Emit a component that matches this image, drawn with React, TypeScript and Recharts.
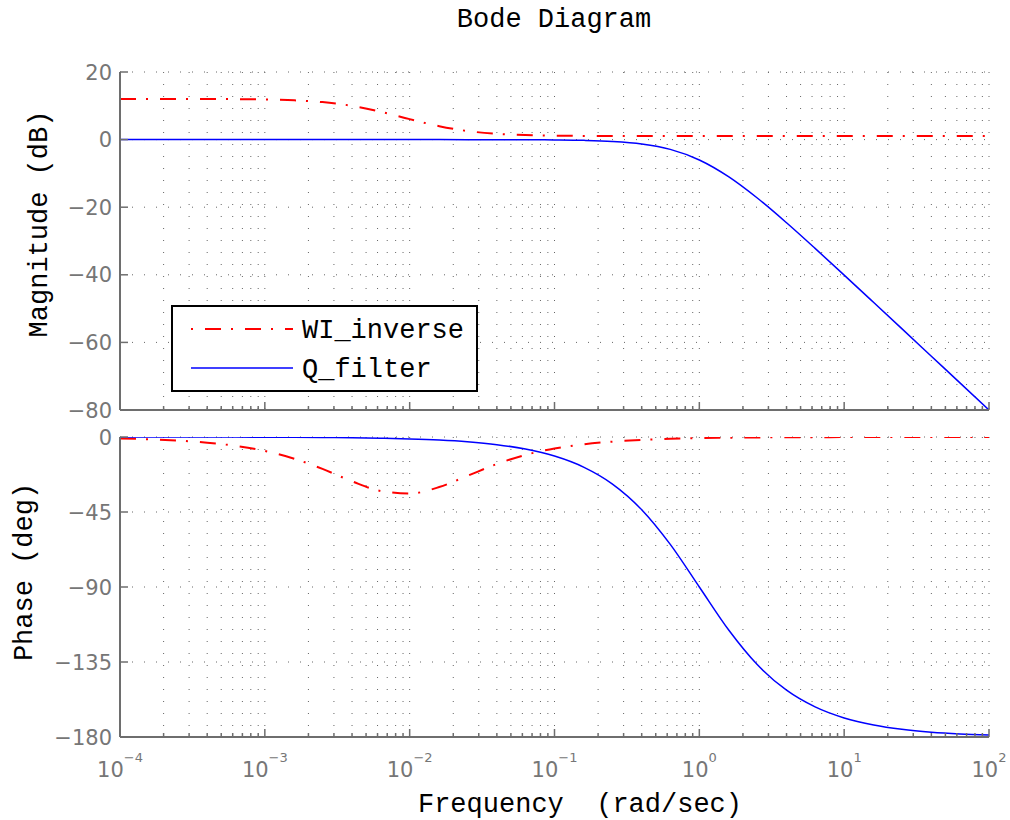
import React from 'react';
import { LineChart, Line, XAxis, YAxis, CartesianGrid, Legend } from 'recharts';

const freq = [
  0.0001, 0.00016, 0.00025, 0.0004, 0.00063,
  0.001, 0.0016, 0.0025, 0.004, 0.0063,
  0.01, 0.016, 0.025, 0.04, 0.063,
  0.1, 0.16, 0.25, 0.4, 0.63,
  1, 1.6, 2.5, 4, 6.3,
  10, 16, 25, 40, 63, 100,
];

// magnitude (dB)
const qMag = [
  0, 0, 0, 0, 0,
  0, 0, 0, 0, 0,
  0, 0, -0.01, -0.01, -0.03,
  -0.09, -0.22, -0.53, -1.29, -2.9,
  -6.02, -11.03, -17.21, -24.61, -32.19,
  -40.09, -48.2, -55.93, -64.09, -71.98, -80,
];
const wiMag = [
  12.04, 12.04, 12.03, 12.01, 11.97,
  11.87, 11.62, 11.09, 9.98, 8.25,
  6.05, 3.97, 2.55, 1.71, 1.33,
  1.17, 1.1, 1.08, 1.06, 1.06,
  1.06, 1.06, 1.06, 1.06, 1.06,
  1.06, 1.06, 1.06, 1.06, 1.06, 1.06,
];

// phase (deg)
const qPhase = [
  -0.01, -0.02, -0.03, -0.05, -0.07,
  -0.11, -0.18, -0.29, -0.46, -0.72,
  -1.15, -1.83, -2.86, -4.58, -7.21,
  -11.42, -18.18, -28.07, -43.6, -64.42,
  -90, -115.99, -136.4, -151.93, -161.96,
  -168.58, -172.85, -175.42, -177.14, -178.18, -178.85,
];
const wiPhase = [
  -0.86, -1.37, -2.14, -3.42, -5.36,
  -8.4, -13.06, -19.14, -26.57, -32.37,
  -33.89, -30.04, -23.35, -16.19, -10.74,
  -6.9, -4.34, -2.79, -1.75, -1.11,
  -0.69, -0.43, -0.28, -0.17, -0.11,
  -0.07, -0.04, -0.03, -0.02, -0.01, -0.01,
];

const decades = [1e-4, 1e-3, 1e-2, 1e-1, 1, 10, 100];
const decadeExp = ['\u22124', '\u22123', '\u22122', '\u22121', '0', '1', '2'];
const magTicks = [20, 0, -20, -40, -60, -80];
const phaseTicks = [0, -45, -90, -135, -180];
const legendOrder = ['wi', 'q'];

// major + minor log ticks (1..9 x 10^k)
const xTicks: number[] = [];
decades.forEach((d, i) => {
  if (i === decades.length - 1) {
    xTicks.push(d);
    return;
  }
  for (let m = 1; m <= 9; m++) xTicks.push(m * d);
});

const magData = freq.map((f, i) => ({ f, wi: wiMag[i], q: qMag[i] }));
const phaseData = freq.map((f, i) => ({ f, wi: wiPhase[i], q: qPhase[i] }));

const MONO = "'Liberation Mono', 'Courier New', monospace";
const SANS = "'DejaVu Sans', Verdana, sans-serif";
const AXIS = '#6e6e6e';
const TICK_TXT = '#767676';
const GRID = '#666666';
const RED = '#ff0000';
const BLUE = '#0000ff';
const RED_DASH = '16 10 2 12';

const XTick = (props: any) => {
  const { x, y, payload, side, showLabel } = props;
  const di = decades.indexOf(payload.value);
  const major = di >= 0;
  const dir = side === 'bottom' ? -1 : 1;
  return (
    <g>
      <line x1={x} y1={y} x2={x} y2={y + dir * (major ? 8 : 4)} stroke={AXIS} strokeWidth={1.5} />
      {showLabel && major && (
        <text x={x} y={y + 40} textAnchor="middle" fill={TICK_TXT} fontFamily={SANS} fontSize={21}>
          <tspan>10</tspan>
          <tspan dy={-15} fontSize={13}>{decadeExp[di]}</tspan>
        </text>
      )}
    </g>
  );
};

const YTick = (props: any) => {
  const { x, y, payload, side, showLabel } = props;
  const dir = side === 'left' ? 1 : -1;
  return (
    <g>
      <line x1={x} y1={y} x2={x + dir * 8} y2={y} stroke={AXIS} strokeWidth={1.5} />
      {showLabel && (
        <text x={x - 8} y={y} dy="0.36em" textAnchor="end" fill={TICK_TXT} fontFamily={SANS} fontSize={21}>
          {String(payload.value).replace('-', '\u2212')}
        </text>
      )}
    </g>
  );
};

const renderLegend = (props: any) => {
  const items = [...(props.payload || [])].sort(
    (a: any, b: any) => legendOrder.indexOf(a.dataKey) - legendOrder.indexOf(b.dataKey)
  );
  return (
    <div
      style={{
        boxSizing: 'border-box',
        width: 307,
        height: 87,
        border: '2px solid #000',
        background: '#fff',
      }}
    >
      <svg width={303} height={83} style={{ display: 'block' }}>
        {items.map((entry: any, i: number) => {
          const ly = 22 + i * 39;
          const isWi = entry.dataKey === 'wi';
          return (
            <g key={entry.value}>
              <line
                x1={18}
                x2={120}
                y1={ly}
                y2={ly}
                stroke={entry.color}
                strokeWidth={isWi ? 2 : 1.5}
                strokeDasharray={isWi ? RED_DASH : undefined}
                strokeDashoffset={isWi ? 26 : undefined}
              />
              <text x={129} y={ly + 9} fontFamily={MONO} fontSize={27} fill="#000">
                {entry.value}
              </text>
            </g>
          );
        })}
      </svg>
    </div>
  );
};

const frameAxis = { stroke: AXIS, strokeWidth: 2 };

export default function App() {
  return (
    <div style={{ position: 'absolute', left: 0, top: 0, width: 1010, height: 820, background: '#fff' }}>
      {/* Magnitude */}
      <div style={{ position: 'absolute', left: 0, top: 0 }}>
        <LineChart width={1010} height={440} data={magData} margin={{ top: 72, right: 21, bottom: 0, left: 0 }}>
          <CartesianGrid xAxisId="b" yAxisId="l" stroke={GRID} strokeDasharray="1 11" />
          <XAxis
            xAxisId="b"
            dataKey="f"
            type="number"
            scale="log"
            domain={[1e-4, 100]}
            allowDataOverflow
            ticks={xTicks}
            interval={0}
            height={30}
            tickSize={0}
            tickMargin={0}
            tickLine={false}
            axisLine={frameAxis}
            tick={(p: any) => <XTick {...p} side="bottom" showLabel={false} />}
          />
          <XAxis
            xAxisId="t"
            orientation="top"
            dataKey="f"
            type="number"
            scale="log"
            domain={[1e-4, 100]}
            allowDataOverflow
            ticks={xTicks}
            interval={0}
            height={0}
            tickSize={0}
            tickMargin={0}
            tickLine={false}
            axisLine={frameAxis}
            tick={(p: any) => <XTick {...p} side="top" showLabel={false} />}
          />
          <YAxis
            yAxisId="l"
            type="number"
            domain={[-80, 20]}
            allowDataOverflow
            ticks={magTicks}
            interval={0}
            width={120}
            tickSize={0}
            tickMargin={0}
            tickLine={false}
            axisLine={frameAxis}
            tick={(p: any) => <YTick {...p} side="left" showLabel />}
          />
          <YAxis
            yAxisId="r"
            orientation="right"
            type="number"
            domain={[-80, 20]}
            allowDataOverflow
            ticks={magTicks}
            interval={0}
            width={0}
            tickSize={0}
            tickMargin={0}
            tickLine={false}
            axisLine={frameAxis}
            tick={(p: any) => <YTick {...p} side="right" showLabel={false} />}
          />
          <Line
            xAxisId="b"
            yAxisId="l"
            type="monotone"
            dataKey="wi"
            name="WI_inverse"
            stroke={RED}
            strokeWidth={2}
            strokeDasharray={RED_DASH}
            dot={false}
            activeDot={false}
            isAnimationActive={false}
          />
          <Line
            xAxisId="b"
            yAxisId="l"
            type="monotone"
            dataKey="q"
            name="Q_filter"
            stroke={BLUE}
            strokeWidth={1.5}
            dot={false}
            activeDot={false}
            isAnimationActive={false}
          />
          <Legend
            layout="vertical"
            align="center"
            verticalAlign="middle"
            wrapperStyle={{ left: 171, top: 305, width: 307, height: 87 }}
            content={renderLegend}
          />
        </LineChart>
      </div>

      {/* Phase */}
      <div style={{ position: 'absolute', left: 0, top: 420 }}>
        <LineChart width={1010} height={400} data={phaseData} margin={{ top: 17, right: 21, bottom: 0, left: 0 }}>
          <CartesianGrid xAxisId="b" yAxisId="l" stroke={GRID} strokeDasharray="1 11" />
          <XAxis
            xAxisId="b"
            dataKey="f"
            type="number"
            scale="log"
            domain={[1e-4, 100]}
            allowDataOverflow
            ticks={xTicks}
            interval={0}
            height={83}
            tickSize={0}
            tickMargin={0}
            tickLine={false}
            axisLine={frameAxis}
            tick={(p: any) => <XTick {...p} side="bottom" showLabel />}
          />
          <XAxis
            xAxisId="t"
            orientation="top"
            dataKey="f"
            type="number"
            scale="log"
            domain={[1e-4, 100]}
            allowDataOverflow
            ticks={xTicks}
            interval={0}
            height={0}
            tickSize={0}
            tickMargin={0}
            tickLine={false}
            axisLine={frameAxis}
            tick={(p: any) => <XTick {...p} side="top" showLabel={false} />}
          />
          <YAxis
            yAxisId="l"
            type="number"
            domain={[-180, 0]}
            allowDataOverflow
            ticks={phaseTicks}
            interval={0}
            width={120}
            tickSize={0}
            tickMargin={0}
            tickLine={false}
            axisLine={frameAxis}
            tick={(p: any) => <YTick {...p} side="left" showLabel />}
          />
          <YAxis
            yAxisId="r"
            orientation="right"
            type="number"
            domain={[-180, 0]}
            allowDataOverflow
            ticks={phaseTicks}
            interval={0}
            width={0}
            tickSize={0}
            tickMargin={0}
            tickLine={false}
            axisLine={frameAxis}
            tick={(p: any) => <YTick {...p} side="right" showLabel={false} />}
          />
          <Line
            xAxisId="b"
            yAxisId="l"
            type="monotone"
            dataKey="wi"
            name="WI_inverse"
            stroke={RED}
            strokeWidth={2}
            strokeDasharray={RED_DASH}
            dot={false}
            activeDot={false}
            isAnimationActive={false}
          />
          <Line
            xAxisId="b"
            yAxisId="l"
            type="monotone"
            dataKey="q"
            name="Q_filter"
            stroke={BLUE}
            strokeWidth={1.5}
            dot={false}
            activeDot={false}
            isAnimationActive={false}
          />
        </LineChart>
      </div>

      {/* titles */}
      <svg
        width={1010}
        height={820}
        style={{ position: 'absolute', left: 0, top: 0, pointerEvents: 'none' }}
      >
        <text x={554} y={27} textAnchor="middle" fontFamily={MONO} fontSize={27} fill="#000">
          Bode Diagram
        </text>
        <text x={580} y={812} textAnchor="middle" fontFamily={MONO} fontSize={27} fill="#000" style={{ whiteSpace: 'pre' }}>
          Frequency  (rad/sec)
        </text>
        <text transform="translate(47,224) rotate(-90)" textAnchor="middle" fontFamily={MONO} fontSize={27} fill="#000" style={{ whiteSpace: 'pre' }}>
          Magnitude (dB)
        </text>
        <text transform="translate(32,572) rotate(-90)" textAnchor="middle" fontFamily={MONO} fontSize={27} fill="#000" style={{ whiteSpace: 'pre' }}>
          Phase (deg)
        </text>
      </svg>
    </div>
  );
}
